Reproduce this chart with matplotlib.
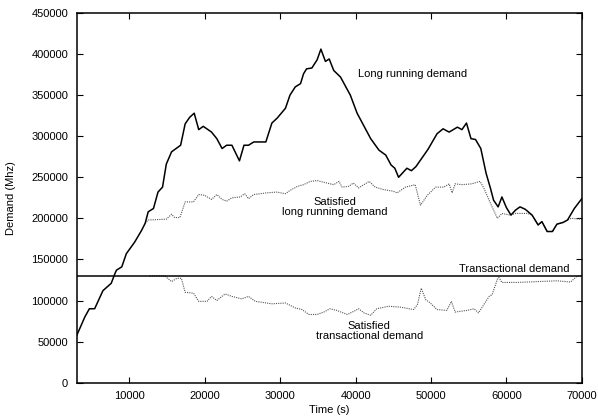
import matplotlib
matplotlib.use('Agg')
import matplotlib.pyplot as plt

plt.rcParams['font.family'] = ['Liberation Sans', 'DejaVu Sans']
plt.rcParams['font.size'] = 8

# long running demand (time s, demand Mhz)
long_t = [3000, 4100, 4700, 5400, 6500, 7600, 8100, 8300, 9000, 9600, 10700, 11600,
          12100, 12500, 13200, 13800, 14400, 14900, 15600, 16800, 17400, 18000, 18600,
          19200, 19800, 20900, 21600, 22300, 22900, 23600, 24600, 25200, 25800, 26500,
          28100, 28900, 29600, 30700, 31300, 32000, 32700, 33100, 33500, 34200, 34900,
          35400, 36000, 36500, 37100, 38000, 39300, 40200, 42000, 43100, 44000, 44700,
          45200, 45700, 46800, 47400, 48000, 49600, 50800, 51600, 52400, 53500, 54100,
          54700, 55300, 55900, 56600, 57300, 57900, 58300, 58900, 59400, 60000, 60600,
          61200, 61800, 62500, 63400, 64200, 64700, 65400, 66100, 66700, 67500, 68100,
          69000, 70000]
long_d = [57000, 80000, 90000, 90000, 112000, 121000, 133000, 137000, 141000, 157000,
          171000, 185000, 194000, 208000, 212000, 232000, 238000, 266000, 281000, 289000,
          315000, 323000, 328000, 308000, 312000, 305000, 297000, 285000, 289000, 289000,
          270000, 289000, 289000, 293000, 293000, 316000, 322000, 334000, 350000, 360000,
          364000, 376000, 382000, 383000, 393000, 406000, 391000, 394000, 380000, 372000,
          350000, 328000, 297000, 283000, 277000, 265000, 261000, 250000, 261000, 258000,
          263000, 284000, 303000, 309000, 305000, 311000, 308000, 316000, 297000, 296000,
          285000, 255000, 236000, 222000, 214000, 226000, 213000, 204000, 210000, 214000,
          211000, 204000, 192000, 196000, 184000, 184000, 193000, 195000, 198000, 212000,
          224000]

# satisfied long running demand
sat_long_t = [12100, 12500, 14900, 15600, 16000, 16700, 17400, 18500, 19200, 20000,
              20900, 21600, 22300, 22900, 23600, 24700, 25300, 25800, 26500, 28200,
              29500, 30700, 31300, 32300, 33100, 34000, 34900, 36200, 37100, 37800,
              38200, 39100, 39700, 40400, 41800, 42600, 43700, 45000, 45500, 46600,
              47900, 48600, 49500, 50600, 51700, 52400, 52800, 53200, 54100, 55400,
              56500, 57000, 57900, 58800, 59400, 60500, 61200, 62800, 63400, 64200,
              64700, 65400, 66100, 66700, 67500, 68100, 68600, 70000]
sat_long_d = [194000, 198000, 199000, 205000, 201000, 201000, 220000, 220000, 229000,
              228000, 223000, 229000, 223000, 221000, 225000, 226000, 230000, 224000,
              229000, 231000, 232000, 230000, 234000, 239000, 241000, 245000, 246000,
              243000, 241000, 245000, 238000, 239000, 243000, 237000, 245000, 238000,
              235000, 233000, 231000, 238000, 241000, 216000, 228000, 238000, 238000,
              242000, 231000, 242000, 241000, 242000, 245000, 237000, 218000, 200000,
              206000, 204000, 206000, 206000, 204000, 192000, 196000, 184000, 184000,
              193000, 195000, 198000, 200000, 199000]

# satisfied transactional demand
sat_tr_t = [12700, 14700, 15600, 16300, 16900, 17400, 18500, 19200, 20300, 20900,
            21600, 22700, 23600, 24900, 25800, 26700, 28900, 30700, 32000, 32900,
            33800, 34900, 35800, 36600, 37500, 38900, 40000, 40400, 41100, 42000,
            42800, 44400, 45900, 47700, 48200, 48700, 49300, 49900, 50800, 52100,
            52700, 53200, 54800, 55700, 56300, 57700, 58100, 58800, 59000, 59400,
            61400, 66700, 68500, 69400, 70000]
sat_tr_d = [130000, 130000, 123000, 127000, 127000, 110000, 109000, 99000, 99000,
            105000, 100000, 108000, 105000, 102000, 105000, 99000, 96000, 97000,
            91000, 89000, 83000, 83000, 86000, 90000, 88000, 83000, 88000, 90000,
            85000, 82000, 90000, 93000, 92000, 89000, 95000, 115000, 101000, 97000,
            89000, 88000, 99000, 86000, 88000, 90000, 85000, 105000, 107000, 126000,
            128000, 122000, 122000, 124000, 122500, 130000, 130000]

transactional = 130000

fig = plt.figure(figsize=(5.98, 4.18), dpi=100)
ax = fig.add_axes([0.128, 0.0845, 0.845, 0.8845])

ax.plot(sat_long_t, sat_long_d, color='#555555', lw=0.8, ls=(0, (1, 1)))
ax.plot(sat_tr_t, sat_tr_d, color='#555555', lw=0.8, ls=(0, (1, 1)))
ax.plot(long_t, long_d, color='black', lw=1.1)
ax.axhline(transactional, color='black', lw=1.1)

ax.text(47600, 376000, 'Long running demand', ha='center', va='center')
ax.text(37200, 214000, 'Satisfied\nlong running demand', ha='center', va='center',
        linespacing=1.0)
ax.text(68300, 138500, 'Transactional demand', ha='right', va='center')
ax.text(41800, 63500, 'Satisfied\ntransactional demand', ha='center', va='center',
        linespacing=1.0)

ax.set_xlim(3000, 70000)
ax.set_ylim(0, 450000)
ax.set_xticks(range(10000, 70001, 10000))
ax.set_yticks(range(0, 450001, 50000))
ax.tick_params(direction='in', top=True, right=True, length=4, width=0.8, pad=6)
for s in ax.spines.values():
    s.set_linewidth(1.1)

ax.set_xlabel('Time (s)', labelpad=3)
ax.set_ylabel('Demand (Mhz)', labelpad=11)

fig.savefig('out.png', dpi=100)
